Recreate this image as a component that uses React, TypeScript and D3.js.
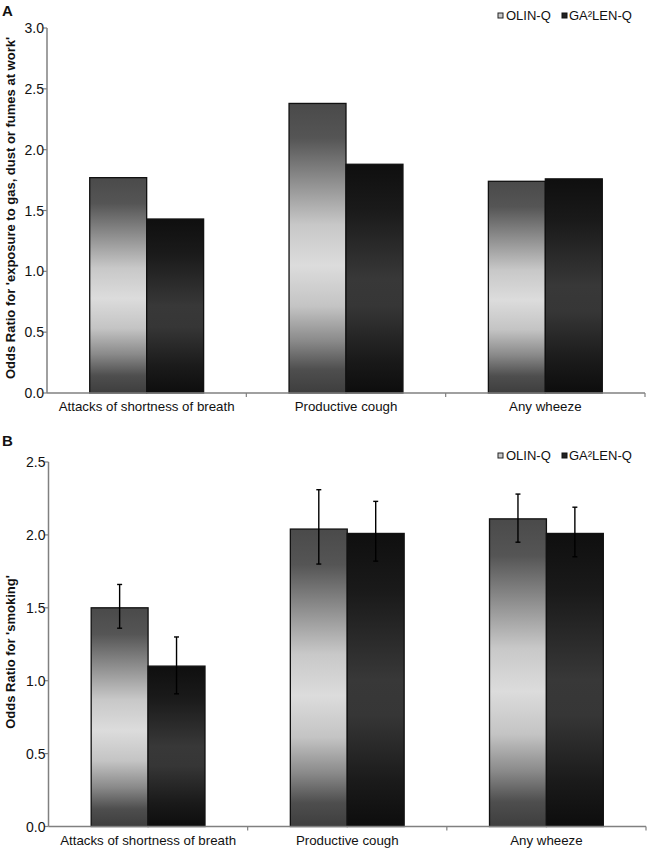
import React from "react";
import * as d3 from "d3";

const categories = ["Attacks of shortness of breath", "Productive cough", "Any wheeze"];
const series = ["OLIN-Q", "GA²LEN-Q"];

// Panel A: exposure to gas, dust or fumes at work
const valuesA_olin = [1.77, 2.38, 1.74];
const valuesA_ga2len = [1.43, 1.88, 1.76];
const ticksA = [0, 0.5, 1.0, 1.5, 2.0, 2.5, 3.0];

// Panel B: smoking (with confidence intervals)
const valuesB_olin = [1.5, 2.04, 2.11];
const lowB_olin = [1.36, 1.8, 1.95];
const highB_olin = [1.66, 2.31, 2.28];
const valuesB_ga2len = [1.1, 2.01, 2.01];
const lowB_ga2len = [0.91, 1.82, 1.85];
const highB_ga2len = [1.3, 2.23, 2.19];
const ticksB = [0, 0.5, 1.0, 1.5, 2.0, 2.5];

const FONT = "'Liberation Sans', Arial, sans-serif";

type PanelProps = {
  id: string;
  label: string;
  title: string;
  top: number;
  bottom: number;
  left: number;
  right: number;
  domainMax: number;
  ticks: number[];
  vals: number[][];
  lows?: number[][];
  highs?: number[][];
  legendY: number;
  titleY: number;
  labelY: number;
};

function Panel(p: PanelProps) {
  const y = d3.scaleLinear().domain([0, p.domainMax]).range([p.bottom, p.top]);
  const x0 = d3.scaleBand<string>().domain(categories).range([p.left, p.right]).padding(0);
  const x1 = d3
    .scaleBand<string>()
    .domain(series)
    .range([0, x0.bandwidth()])
    .paddingInner(0)
    .paddingOuter(0.75);
  const fills = [`url(#gOlin${p.id})`, `url(#gGa${p.id})`];
  const bw = x1.bandwidth();
  return (
    <g>
      <defs>
        <linearGradient id={`gOlin${p.id}`} x1="0" y1="0" x2="0" y2="1">
          <stop offset="0%" stopColor="#4a4a4a" />
          <stop offset="12%" stopColor="#555555" />
          <stop offset="30%" stopColor="#9a9a9a" />
          <stop offset="42%" stopColor="#c8c8c8" />
          <stop offset="56%" stopColor="#dcdcdc" />
          <stop offset="70%" stopColor="#c4c4c4" />
          <stop offset="82%" stopColor="#8a8a8a" />
          <stop offset="92%" stopColor="#4e4e4e" />
          <stop offset="100%" stopColor="#3e3e3e" />
        </linearGradient>
        <linearGradient id={`gGa${p.id}`} x1="0" y1="0" x2="0" y2="1">
          <stop offset="0%" stopColor="#0f0f0f" />
          <stop offset="20%" stopColor="#1a1a1a" />
          <stop offset="50%" stopColor="#383838" />
          <stop offset="62%" stopColor="#363636" />
          <stop offset="85%" stopColor="#1a1a1a" />
          <stop offset="100%" stopColor="#0d0d0d" />
        </linearGradient>
      </defs>
      {/* panel label */}
      <text x={2} y={p.labelY} fontFamily={FONT} fontWeight="bold" fontSize={15} fill="#111">
        {p.label}
      </text>
      {/* y axis title */}
      <text
        transform={`translate(15,${p.titleY}) rotate(-90)`}
        textAnchor="middle"
        fontFamily={FONT}
        fontWeight="bold"
        fontSize={13}
        fill="#111"
      >
        {p.title}
      </text>
      {/* y axis */}
      <line x1={p.left} x2={p.left} y1={p.top} y2={p.bottom} stroke="#808080" strokeWidth={1.5} />
      {p.ticks.map((t) => (
        <g key={t}>
          <line x1={p.left - 4} x2={p.left} y1={y(t)} y2={y(t)} stroke="#808080" strokeWidth={1.2} />
          <text
            x={p.left - 3}
            y={y(t)}
            dy="0.36em"
            textAnchor="end"
            fontFamily={FONT}
            fontSize={14}
            fill="#111"
          >
            {d3.format(".1f")(t)}
          </text>
        </g>
      ))}
      {/* bars */}
      {categories.map((c, ci) =>
        series.map((s, si) => {
          const v = p.vals[si][ci];
          const bx = (x0(c) as number) + (x1(s) as number);
          return (
            <rect
              key={c + s}
              x={bx}
              y={y(v)}
              width={bw}
              height={y(0) - y(v)}
              fill={fills[si]}
              stroke="#111"
              strokeWidth={1.3}
            />
          );
        })
      )}
      {/* error bars */}
      {p.lows &&
        p.highs &&
        categories.map((c, ci) =>
          series.map((s, si) => {
            const cx = (x0(c) as number) + (x1(s) as number) + bw / 2;
            const lo = y(p.lows![si][ci]);
            const hi = y(p.highs![si][ci]);
            return (
              <g key={"e" + c + s} stroke="#000" strokeWidth={1.4}>
                <line x1={cx} x2={cx} y1={hi} y2={lo} />
                <line x1={cx - 2.5} x2={cx + 2.5} y1={hi} y2={hi} />
                <line x1={cx - 2.5} x2={cx + 2.5} y1={lo} y2={lo} />
              </g>
            );
          })
        )}
      {/* x axis */}
      <line x1={p.left} x2={p.right} y1={p.bottom} y2={p.bottom} stroke="#808080" strokeWidth={1.5} />
      {categories.map((c) => (
        <line
          key={"t" + c}
          x1={(x0(c) as number) + x0.bandwidth()}
          x2={(x0(c) as number) + x0.bandwidth()}
          y1={p.bottom}
          y2={p.bottom + 4}
          stroke="#808080"
          strokeWidth={1.2}
        />
      ))}
      {categories.map((c) => (
        <text
          key={"l" + c}
          x={(x0(c) as number) + x0.bandwidth() / 2}
          y={p.bottom + 18}
          textAnchor="middle"
          fontFamily={FONT}
          fontSize={13.3}
          fill="#111"
        >
          {c}
        </text>
      ))}
      {/* legend */}
      <g fontFamily={FONT} fontSize={13} fill="#111">
        <rect x={498} y={p.legendY - 7} width={5} height={5} fill="#c8c8c8" stroke="#222" strokeWidth={1} />
        <text x={506} y={p.legendY}>
          {series[0]}
        </text>
        <rect x={562} y={p.legendY - 7} width={5} height={5} fill="#222" stroke="#111" strokeWidth={1} />
        <text x={569} y={p.legendY}>
          {series[1]}
        </text>
      </g>
    </g>
  );
}

export default function App() {
  return (
    <svg
      width={651}
      height={849}
      style={{ position: "absolute", left: 0, top: 0, background: "#fff" }}
    >
      <rect x={0} y={0} width={651} height={849} fill="#fff" />
      <Panel
        id="A"
        label="A"
        title="Odds Ratio for 'exposure to gas, dust or fumes at work'"
        top={28}
        bottom={393}
        left={47}
        right={645}
        domainMax={3}
        ticks={ticksA}
        vals={[valuesA_olin, valuesA_ga2len]}
        legendY={20}
        titleY={208}
        labelY={16}
      />
      <Panel
        id="B"
        label="B"
        title="Odds Ratio for 'smoking'"
        top={462}
        bottom={826.5}
        left={48.5}
        right={646}
        domainMax={2.5}
        ticks={ticksB}
        vals={[valuesB_olin, valuesB_ga2len]}
        lows={[lowB_olin, lowB_ga2len]}
        highs={[highB_olin, highB_ga2len]}
        legendY={460}
        titleY={652}
        labelY={446}
      />
    </svg>
  );
}
